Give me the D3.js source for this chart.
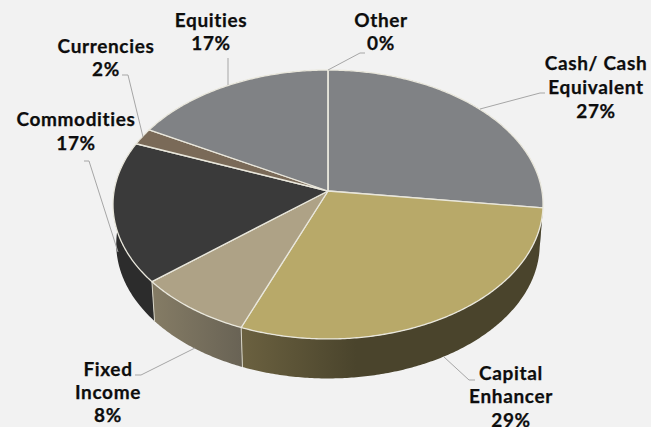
<!DOCTYPE html>
<html><head><meta charset="utf-8">
<script src="https://cdn.jsdelivr.net/npm/d3@7"></script>
<style>html,body{margin:0;padding:0;background:#f2f2f2;overflow:hidden}svg{display:block}
text{font-family:Lato,sans-serif;font-weight:700;font-size:19px;letter-spacing:.65px;font-variant-ligatures:none;fill:#0d0d0d;stroke:#0d0d0d;stroke-width:.25px;text-anchor:middle}</style>
</head><body><svg id="c" width="651" height="427"></svg>
<script>
// Data
const categories = ["Cash/ Cash Equivalent","Capital Enhancer","Fixed Income","Commodities","Currencies","Equities","Other"];
const shares = [27,29,8,17,2,17,0];
const labelLines = [["Cash/ Cash","Equivalent","27%"],["Capital","Enhancer","29%"],["Fixed","Income","8%"],["Commodities","17%"],["Currencies","2%"],["Equities","17%"],["Other","0%"]];

// Styles and layout
const topColors = ["#808285","#b8a969","#aea286","#3a3a3a","#7a6a58","#808285","#808285"];
const sideStops = [["#808285","#808285"],["#6b6140","#4a442c"],["#857c65","#696355"],["#2c2c2c","#2c2c2c"],["#7a6a58","#7a6a58"],["#808285","#808285"],["#808285","#808285"]];
const labelPos = [[596,70,24],[511,380,23.3],[108,376,23],[76,126,24],[106,53,23],[211,27,23],[381,27,23]];
const leaders = [[[545,93],[540,93],[480,109]],[[475,380],[469,380],[444,357]],[[135,375],[141,375],[195,348]],[[84,161],[89,161],[118,252]],[[122,75],[128,75],[143,137]],[[228,58],[228,85]],[[365,53],[360,53],[328,70]]];
const apex=[328,191], rimA=133.1, rimC=-0.1004, rimD=213.9, depth=39.5, shrink=0.985;

const svg=d3.select("#c");
const defs=svg.append("defs");
const pie=d3.pie().sort(null).value(d=>d).startAngle(0).endAngle(2*Math.PI);
const arcs=pie(shares);

// Perspective projection of a disc: angle clockwise from the top of the disc
const x=a=>{const u=Math.sin(a),v=-Math.cos(a);return apex[0]+rimD*u/(1+rimC*v)};
const y=a=>{const v=-Math.cos(a);return apex[1]+rimA*v/(1+rimC*v)};
const rim=a=>[x(a),y(a)];
const low=a=>[apex[0]+(x(a)-apex[0])*shrink,y(a)+depth];
const samples=d=>{const n=Math.max(2,Math.ceil((d.endAngle-d.startAngle)/0.01));
  return d3.range(n+1).map(i=>d.startAngle+(d.endAngle-d.startAngle)*i/n)};
const line=d3.line();

// Side walls
const sides=svg.append("g");
arcs.forEach((d,i)=>{
  if(d.value===0)return;
  const as=samples(d);
  const xs=as.map(x);
  const g=defs.append("linearGradient").attr("id","s"+i).attr("gradientUnits","userSpaceOnUse")
    .attr("x1",d3.min(xs)).attr("x2",i===1?d3.min(xs)+115:d3.max(xs)).attr("y1",0).attr("y2",0);
  g.append("stop").attr("offset",0).attr("stop-color",sideStops[i][0]);
  g.append("stop").attr("offset",1).attr("stop-color",sideStops[i][1]);
  const pts=as.map(rim).concat(as.slice().reverse().map(low));
  sides.append("path").attr("d",line(pts)+"Z").attr("fill",`url(#s${i})`);
  // seam between walls
  if(i===2||i===3) sides.append("path").attr("d",line([rim(d.startAngle),low(d.startAngle)]))
    .attr("stroke","#d9d6c8").attr("stroke-width",1).attr("fill","none");
});

// Top surface
const tops=svg.append("g");
arcs.forEach((d,i)=>{
  const pts=[apex].concat(samples(d).map(rim));
  tops.append("path").attr("d",line(pts)+"Z").attr("fill",topColors[i])
    .attr("stroke","#e9e7dc").attr("stroke-width",1.3).attr("stroke-linejoin","round");
});

// Leader lines
svg.append("g").selectAll("path").data(leaders).join("path")
  .attr("d",d=>line(d)).attr("fill","none").attr("stroke","#a6a6a6").attr("stroke-width",1);

// Labels
labelLines.forEach((ls,i)=>{
  const [lx,ly,lh]=labelPos[i];
  const t=svg.append("text").attr("aria-label",categories[i]);
  ls.forEach((s,j)=>t.append("tspan").attr("x",lx).attr("y",ly+j*lh).text(s));
});
</script></body></html>
